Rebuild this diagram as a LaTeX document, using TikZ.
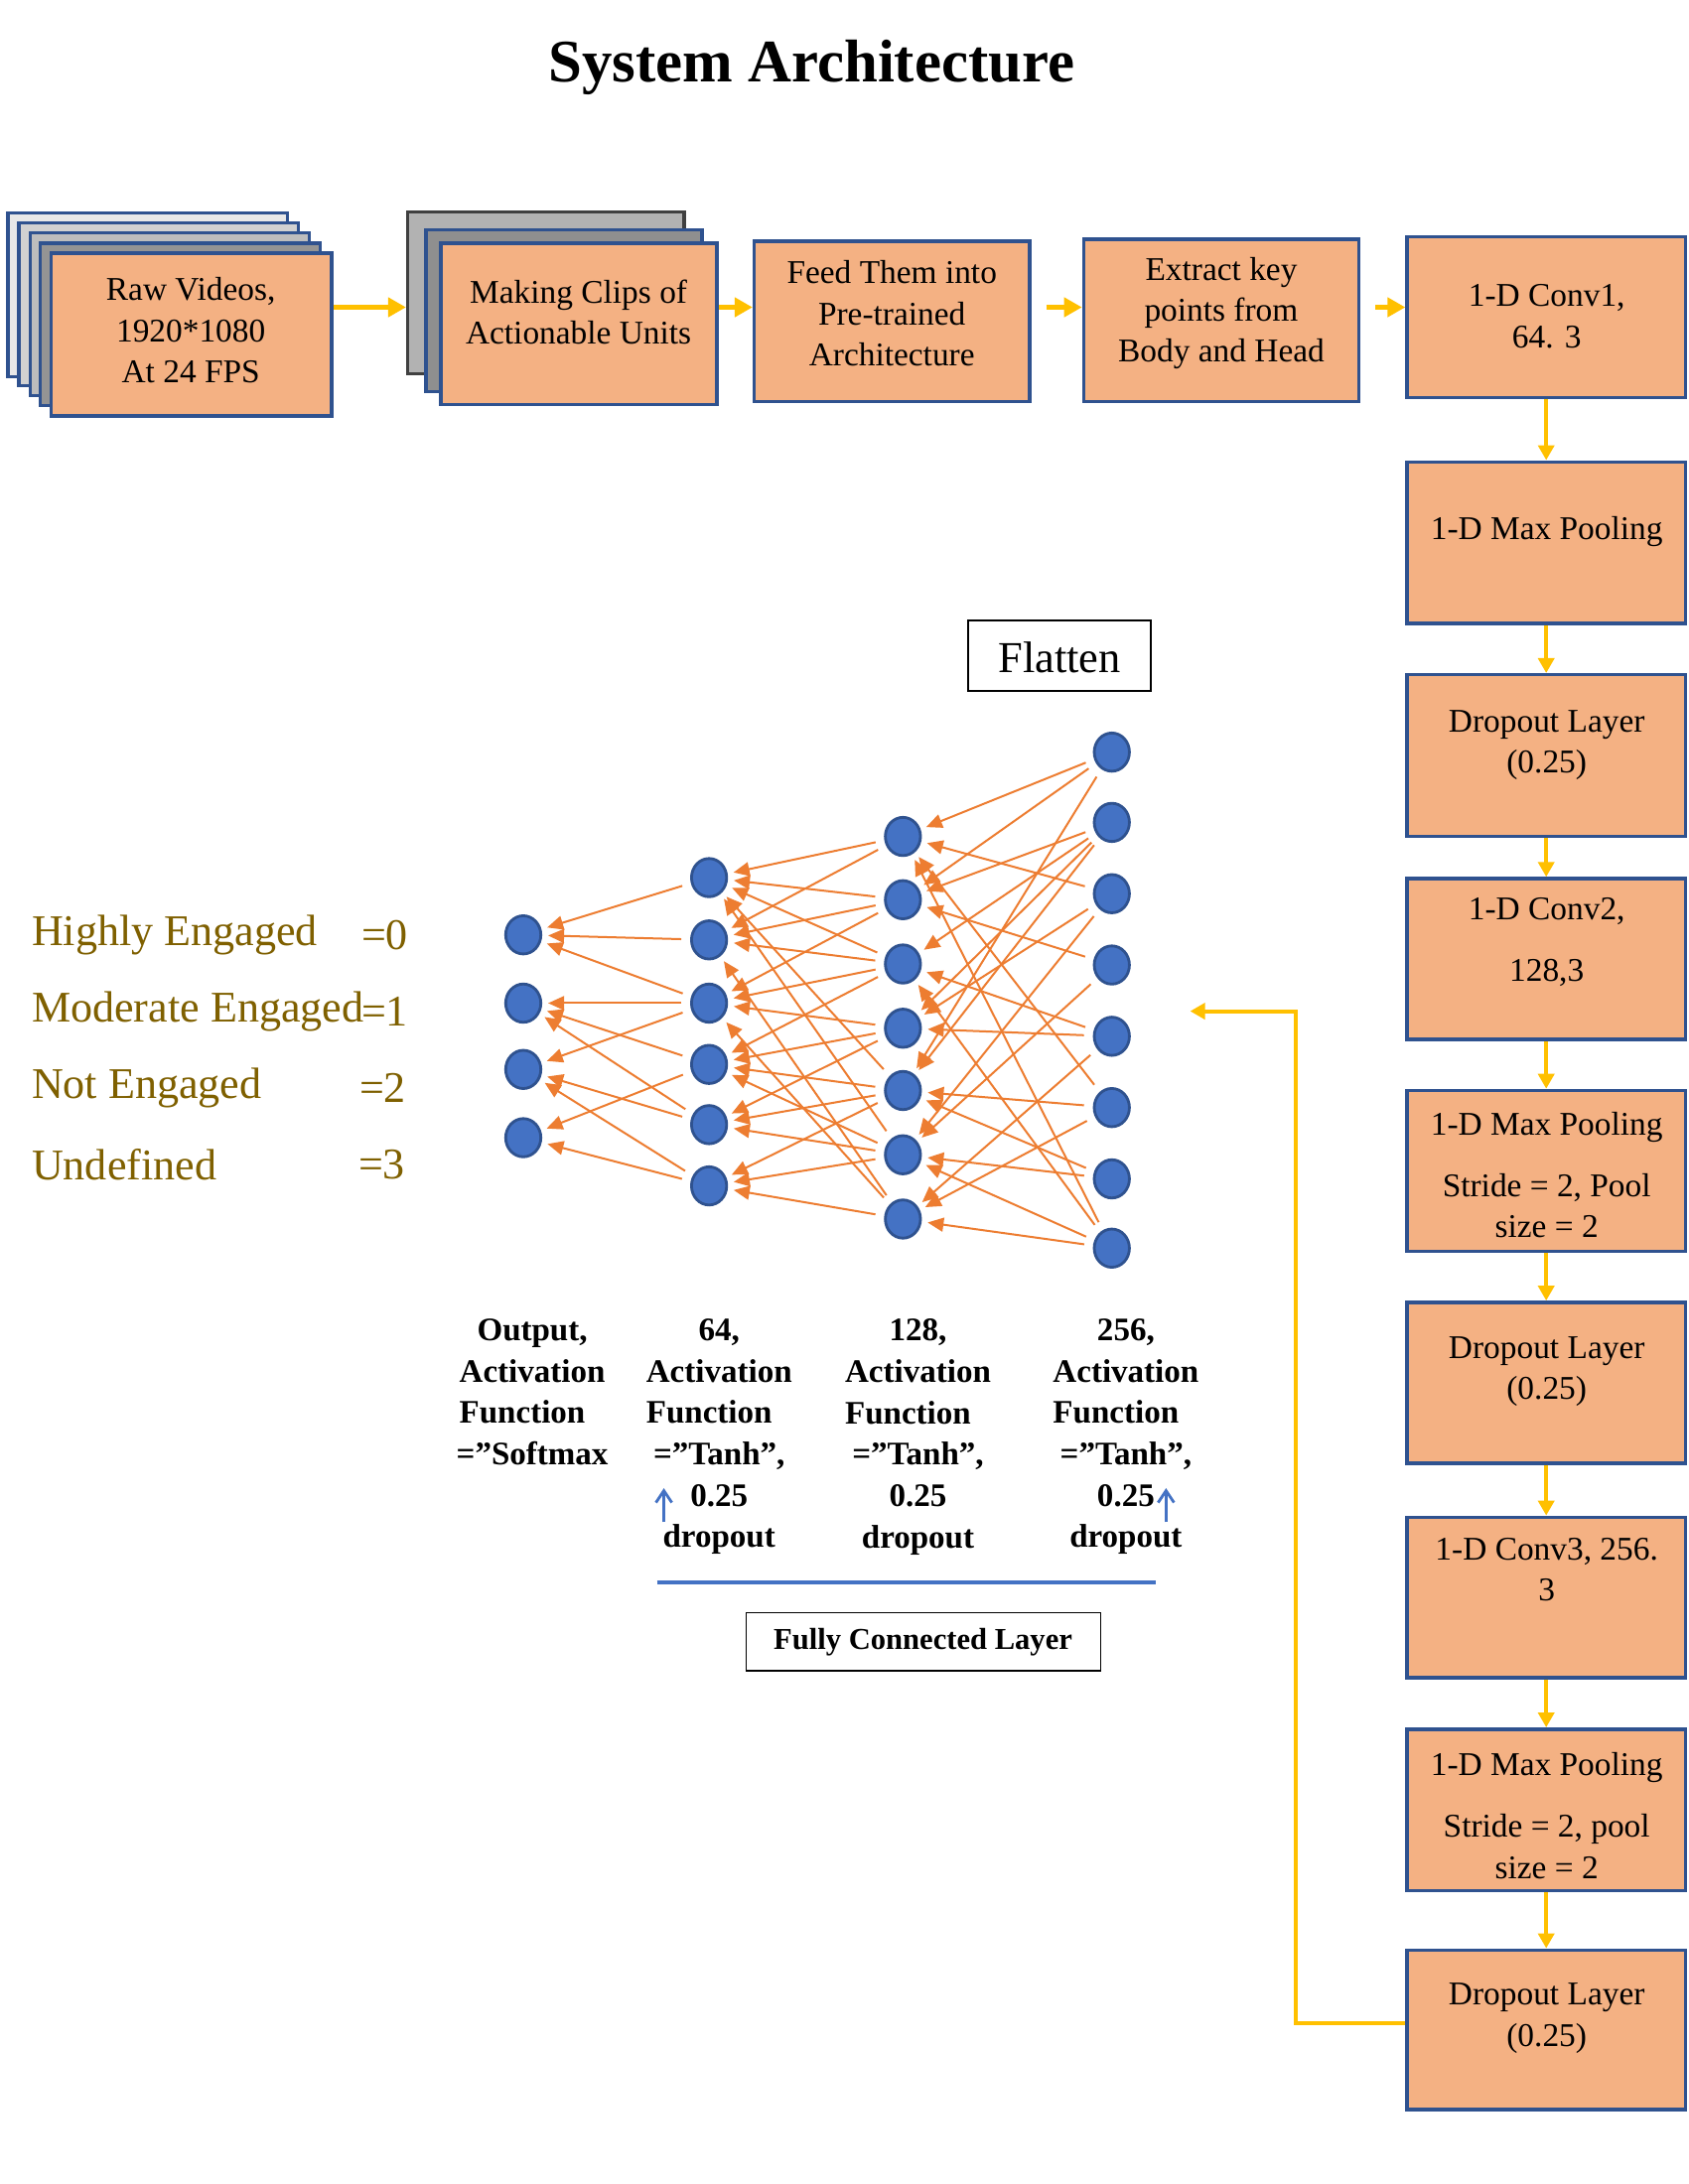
\documentclass[tikz,border=0pt]{standalone}
\usepackage{fontspec}
\setmainfont{Liberation Serif}
\usetikzlibrary{arrows.meta,shapes.geometric,fit}
\definecolor{boxfill}{HTML}{F4B183}
\definecolor{boxline}{HTML}{2F528F}
\definecolor{arrowgold}{HTML}{FFC000}
\definecolor{nodeblue}{HTML}{4472C4}
\definecolor{edgeorange}{HTML}{ED7D31}
\definecolor{legendgold}{HTML}{7F6000}
\begin{document}
\begin{tikzpicture}[x=0.10115mm,y=-0.10115mm]
\tikzset{
 procbox/.style={draw=boxline, fill=boxfill, line width=1pt, inner sep=0pt},
 stackbox/.style={draw=boxline, line width=1pt, inner sep=0pt},
 boxtext/.style={font=\fontsize{9.5}{11.75}\selectfont, align=center, inner sep=0pt},
 toparrow/.style={draw=arrowgold, line width=0.55mm, -{Triangle[length=1.8mm,width=1.9mm]}},
 colarrow/.style={draw=arrowgold, line width=0.4mm, -{Triangle[length=1.5mm,width=1.6mm]}},
 fbarrow/.style={draw=arrowgold, line width=0.4mm, -{Triangle[length=1.5mm,width=1.6mm]}},
 neuron/.style={ellipse, draw=boxline, fill=nodeblue, line width=0.8pt, minimum width=3.54mm, minimum height=3.85mm, inner sep=0pt},
 nnarrow/.style={draw=edgeorange, line width=0.2mm, -{Triangle[length=1.6mm,width=1.4mm]}, shorten <=0.9mm, shorten >=0.6mm},
 legendtxt/.style={text=legendgold, font=\fontsize{12.55}{14}\selectfont, inner sep=0pt},
 labeltxt/.style={font=\bfseries\fontsize{9.4}{11.85}\selectfont, align=center, inner sep=0pt, anchor=north},
 thinbox/.style={draw=black, line width=0.5pt, inner sep=0pt},
 bluearrow/.style={draw=nodeblue, line width=0.8pt, -{Straight Barb[length=1.2mm,width=1.6mm]}},
}
\useasboundingbox[fill=white] (0,0) rectangle (1680.7,2175);

% Title
\node[font=\bfseries\fontsize{17.3}{20}\selectfont] (title) at (808,67) {System Architecture};

% Raw videos stack
\node[stackbox, fill=black!9, fit={(8,212)(286,375)}] (rawl4) {};
\node[stackbox, fill=black!18, fit={(19,222)(297,384)}] (rawl3) {};
\node[stackbox, fill=black!26, fit={(30,232)(308,394)}] (rawl2) {};
\node[stackbox, fill=black!42, fit={(40,242)(319,404)}] (rawl1) {};
\node[procbox, fit={(51,252)(330,414)}] (raw) {};
\node[boxtext] (rawt) at (190,329) {Raw Videos,\\1920*1080\\At 24 FPS};

% Making clips stack
\node[draw=black!75, line width=1pt, inner sep=0pt, fill=black!30, fit={(406,211)(681,372)}] (clipsback) {};
\node[stackbox, fill=black!44, fit={(424,229)(699,390)}] (clipsmid) {};
\node[procbox, fit={(439,242)(714,403)}] (clips) {};
\node[boxtext] (clipst) at (576,311) {Making Clips of\\Actionable Units};

% Feed / Extract
\node[procbox, fit={(751,240)(1025,400)}] (feed) {};
\node[boxtext] (feedt) at (888,312) {Feed Them into\\Pre-trained\\Architecture};
\node[procbox, fit={(1079,238)(1353,400)}] (extract) {};
\node[boxtext] (extractt) at (1216,312) {Extract key\\points from\\Body and Head};

% Right column
\node[procbox, fit={(1401,236)(1678,396)}] (conv1) {};
\node[boxtext] (conv1t) at (1540,315) {1-D Conv1,\\64. 3};
\node[procbox, fit={(1401,460)(1678,621)}] (pool1) {};
\node[boxtext] (pool1t) at (1540,529) {1-D Max Pooling};
\node[procbox, fit={(1401,672)(1678,833)}] (drop1) {};
\node[boxtext] (drop1t) at (1540,742) {Dropout Layer\\(0.25)};
\node[procbox, fit={(1401,875)(1678,1035)}] (conv2) {};
\node[boxtext] (conv2t) at (1540,938) {1-D Conv2,\\[6pt]128,3};
\node[procbox, fit={(1401,1086)(1678,1246)}] (pool2) {};
\node[boxtext] (pool2t) at (1540,1170) {1-D Max Pooling\\[6pt]Stride = 2, Pool\\size = 2};
\node[procbox, fit={(1401,1297)(1678,1457)}] (drop2) {};
\node[boxtext] (drop2t) at (1540,1366) {Dropout Layer\\(0.25)};
\node[procbox, fit={(1401,1511)(1678,1671)}] (conv3) {};
\node[boxtext] (conv3t) at (1540,1563) {1-D Conv3, 256.\\3};
\node[procbox, fit={(1401,1722)(1678,1883)}] (pool3) {};
\node[boxtext] (pool3t) at (1540,1808) {1-D Max Pooling\\[6pt]Stride = 2, pool\\size = 2};
\node[procbox, fit={(1401,1942)(1678,2101)}] (drop3) {};
\node[boxtext] (drop3t) at (1540,2010) {Dropout Layer\\(0.25)};

% Top row arrows
\draw[toparrow] (raw.east |- 0,306) -- (clipsback.west |- 0,306);
\draw[toparrow] (clips.east |- 0,306) -- (feed.west |- 0,306);
\draw[toparrow] ([xshift=1.5mm]feed.east |- 0,306) -- (extract.west |- 0,306);
\draw[toparrow] ([xshift=1.5mm]extract.east |- 0,306) -- (conv1.west |- 0,306);

% Column arrows
\draw[colarrow] (conv1.south) -- (pool1.north);
\draw[colarrow] (pool1.south) -- (drop1.north);
\draw[colarrow] (drop1.south) -- (conv2.north);
\draw[colarrow] (conv2.south) -- (pool2.north);
\draw[colarrow] (pool2.south) -- (drop2.north);
\draw[colarrow] (drop2.south) -- (conv3.north);
\draw[colarrow] (conv3.south) -- (pool3.north);
\draw[colarrow] (pool3.south) -- (drop3.north);

% Feedback arrow
\coordinate (fbc1) at (1290,2015);
\coordinate (fbc2) at (1290,1007);
\coordinate (fbend) at (1185,1007);
\draw[fbarrow] (drop3.west |- fbc1) -- (fbc1) -- (fbc2) -- (fbend);

% Flatten
\node[thinbox, fit={(964,618)(1146,688)}] (flatbox) {};
\node[font=\fontsize{12.65}{14}\selectfont, inner sep=0pt] (flatt) at (1055,655) {Flatten};

% Neurons
\foreach \i/\y in {1/931,2/999,3/1065,4/1133} \node[neuron] (o\i) at (521,\y) {};
\foreach \i/\y in {1/874,2/936,3/999,4/1060,5/1120,6/1181} \node[neuron] (a\i) at (706,\y) {};
\foreach \i/\y in {1/833,2/896,3/960,4/1024,5/1086,6/1150,7/1214} \node[neuron] (b\i) at (899,\y) {};
\foreach \i/\y in {1/749,2/819,3/890,4/961,5/1032,6/1103,7/1174,8/1243} \node[neuron] (c\i) at (1107,\y) {};

% Connections
\foreach \s/\t in {a1/o1,a2/o1,a3/o1,a3/o2,a4/o2,a5/o2,a3/o3,a5/o3,a6/o3,a4/o4,a6/o4}
  \draw[nnarrow] (\s) -- (\t);
\foreach \s/\t in {b1/a1,b2/a1,b3/a1,b5/a1,b6/a1,b1/a2,b2/a2,b3/a2,b7/a2,b2/a3,b3/a3,b4/a3,b7/a3,b3/a4,b4/a4,b5/a4,b6/a4,b4/a5,b5/a5,b6/a5,b5/a6,b6/a6,b7/a6}
  \draw[nnarrow] (\s) -- (\t);
\foreach \s/\t in {c1/b1,c3/b1,c6/b1,c8/b1,c1/b2,c2/b2,c4/b2,c2/b3,c5/b3,c8/b3,c2/b4,c3/b4,c5/b4,c1/b5,c2/b5,c6/b5,c7/b5,c3/b6,c4/b6,c7/b6,c8/b6,c5/b7,c6/b7,c8/b7}
  \draw[nnarrow] (\s) -- (\t);

% Legend
\node[legendtxt, anchor=west] (l0) at (31,931) {Highly Engaged};
\node[legendtxt, anchor=east] (l0v) at (407,931) {=0};
\node[legendtxt, anchor=west] (l1) at (31,1007) {Moderate Engaged};
\node[legendtxt, anchor=east] (l1v) at (407,1007) {=1};
\node[legendtxt, anchor=west] (l2) at (31,1083) {Not Engaged};
\node[legendtxt, anchor=east] (l2v) at (405,1083) {=2};
\node[legendtxt, anchor=west] (l3) at (31,1160) {Undefined};
\node[legendtxt, anchor=east] (l3v) at (404,1160) {=3};

% Layer labels
\node[labeltxt] (lab1) at (530,1313) {Output,\\Activation\\\rlap{Function}\phantom{Activation}\\=”Softmax};
\node[labeltxt] (lab2) at (716,1313) {64,\\Activation\\\rlap{Function}\phantom{Activation}\\=”Tanh”,\\0.25\\dropout};
\node[labeltxt] (lab3) at (914,1313) {128,\\Activation\\\rlap{Function}\phantom{Activation}\\=”Tanh”,\\0.25\\dropout};
\node[labeltxt] (lab4) at (1121,1313) {256,\\Activation\\\rlap{Function}\phantom{Activation}\\=”Tanh”,\\0.25\\dropout};

% Blue up arrows
\coordinate (ua1s) at (661,1516);
\coordinate (ua1e) at (661,1482);
\coordinate (ua2s) at (1161,1516);
\coordinate (ua2e) at (1161,1482);
\draw[bluearrow] (ua1s) -- (ua1e);
\draw[bluearrow] (ua2s) -- (ua2e);

% Blue line
\coordinate (bl1) at (654,1576);
\coordinate (bl2) at (1151,1576);
\draw[draw=nodeblue, line width=0.4mm] (bl1) -- (bl2);

% Fully connected layer box
\node[thinbox, fit={(743,1606)(1096,1664)}] (fcbox) {};
\node[font=\bfseries\fontsize{8.7}{10}\selectfont, inner sep=0pt] (fct) at (919,1635) {Fully Connected Layer};
\end{tikzpicture}
\end{document}
